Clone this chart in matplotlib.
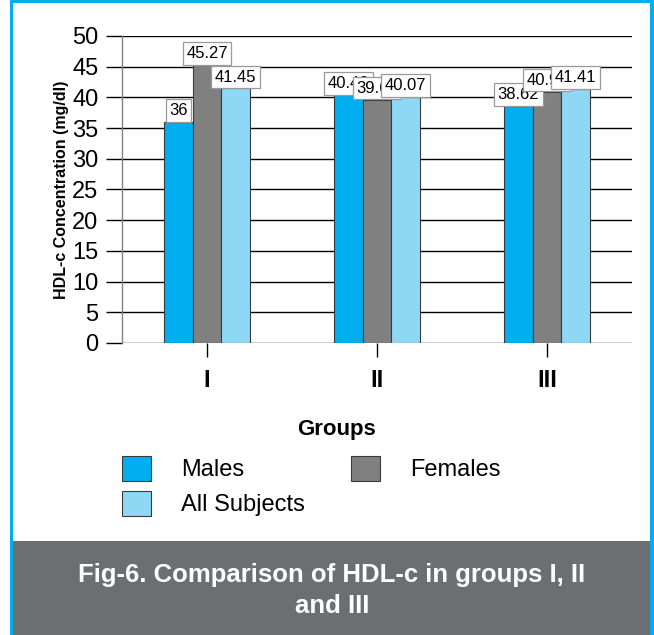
import numpy as np
import matplotlib
matplotlib.use("Agg")
import matplotlib.pyplot as plt
from matplotlib.patches import Rectangle, Patch

plt.rcParams['font.family'] = ['Liberation Sans', 'DejaVu Sans']

groups = ['I', 'II', 'III']
series = ['Males', 'Females', 'All Subjects']
males = [36, 40.43, 38.62]
females = [45.27, 39.65, 40.93]
all_subjects = [41.45, 40.07, 41.41]
colors = ['#00AEEF', '#808080', '#8FD8F5']

W, H = 654, 635
fig = plt.figure(figsize=(W / 100, H / 100), dpi=100, facecolor='white')

# frame: cyan border and grey caption band
fig.patches.append(Rectangle((13 / W, 0), (650 - 13) / W, (H - 541) / H,
                             transform=fig.transFigure, fc='#6D6E71', ec='none', zorder=1))
for x0, y0, w, h in [(10, 0, 3, H), (650, 0, 4, H), (10, 0, 644, 3)]:
    fig.patches.append(Rectangle((x0 / W, 1 - (y0 + h) / H), w / W, h / H,
                                 transform=fig.transFigure, fc='#00AEEF', ec='none', zorder=2))

ax = fig.add_axes([122 / W, 1 - 343 / H, (632 - 122) / W, (343 - 36) / H])
ax.set_facecolor('none')
ax.set_zorder(5)

x = np.arange(len(groups))
width = 0.168
data = [males, females, all_subjects]
for i, vals in enumerate(data):
    ax.bar(x + (i - 1) * width, vals, width, color=colors[i],
           edgecolor='#3a3a3a', linewidth=0.8, zorder=3)

# value boxes, later series drawn on top of earlier ones
for i, vals in enumerate(data):
    for j, v in enumerate(vals):
        ax.annotate(f'{v:g}', (x[j] + (i - 1) * width, v), xytext=(0, 2.8),
                    textcoords='offset points', ha='center', va='bottom',
                    fontsize=12, zorder=4 + i + 3 * j, annotation_clip=False,
                    bbox=dict(boxstyle='square,pad=0.22', fc='white', ec='#999999', lw=0.9))

ax.set_xlim(-0.5, 2.5)
ax.set_ylim(0, 50)
ax.set_yticks(np.arange(0, 51, 5))
ax.set_xticks(x)
ax.set_xticklabels(groups, fontweight='bold')
ax.yaxis.grid(True, color='black', lw=1, zorder=1)
ax.set_axisbelow(True)
for s in ['top', 'right', 'bottom']:
    ax.spines[s].set_visible(False)
ax.spines['left'].set_color('#808080')
ax.spines['left'].set_linewidth(1)
ax.tick_params(axis='y', direction='out', length=11.5, width=1, pad=5.5,
               labelsize=17, color='black', left=True)
ax.tick_params(axis='x', direction='out', length=10, width=1, pad=9,
               labelsize=17, color='black')

ax.set_ylabel('HDL-c Concentration (mg/dl)', fontsize=11.5, fontweight='bold')
ax.yaxis.set_label_coords(-0.104, 0.5)

fig.text(336 / W, 1 - 430 / H, 'Groups', fontsize=16, fontweight='bold',
         ha='center', va='center')

handles = [Patch(fc=colors[0], ec='#3a3a3a', lw=0.8, label=series[0]),
           Patch(fc=colors[2], ec='#3a3a3a', lw=0.8, label=series[2]),
           Patch(fc=colors[1], ec='#3a3a3a', lw=0.8, label=series[1])]
fig.legend(handles=handles, ncol=2, frameon=False, fontsize=17,
           loc='upper left', bbox_to_anchor=(122 / W, 1 - 456 / H),
           borderpad=0, borderaxespad=0, handlelength=1.23, handleheight=1.23,
           handletextpad=1.27, columnspacing=1.95, labelspacing=0.42)

fig.text(332 / W, 1 - 575 / H, 'Fig-6. Comparison of HDL-c in groups I, II',
         color='white', fontsize=18.5, fontweight='bold', ha='center', va='center', zorder=5)
fig.text(332 / W, 1 - 606 / H, 'and III',
         color='white', fontsize=18.5, fontweight='bold', ha='center', va='center', zorder=5)

fig.savefig('out.png', dpi=100)
